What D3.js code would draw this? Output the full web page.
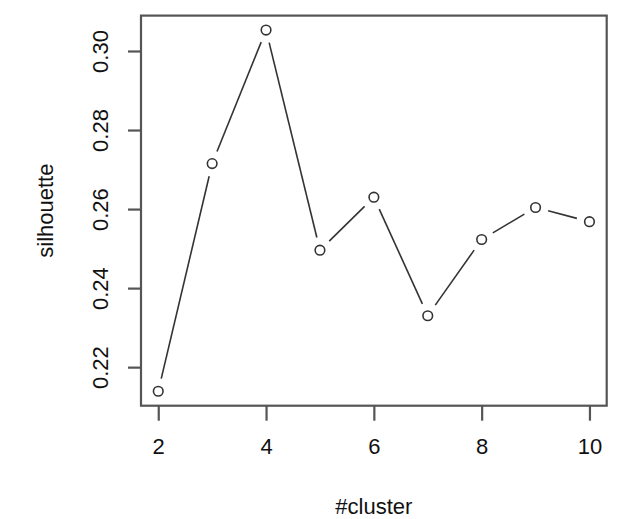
<html>
  <head>
    <script src="https://d3js.org/d3.v7.min.js"></script>
    <style>
      body { margin: 0; background: #fff; }
      text { font-family: "Liberation Sans", Arial, sans-serif; fill: #111; }
    </style>
  </head>
  <body>
    <svg width="638" height="519"></svg>
    <script>
      // data
      var clusters = [2, 3, 4, 5, 6, 7, 8, 9, 10];
      var silhouette = [0.2139, 0.2715, 0.3053, 0.2496, 0.2630, 0.2330, 0.2523, 0.2604, 0.2568];
      var xTicks = [2, 4, 6, 8, 10];
      var yTicks = [0.22, 0.24, 0.26, 0.28, 0.30];

      var svg = d3.select("svg");
      var plotLeft = 141, plotRight = 606.7, plotTop = 15.6, plotBottom = 405.7;

      // R style 4% extension of the data range
      function ext(a) {
        var e = d3.extent(a), d = (e[1] - e[0]) * 0.04;
        return [e[0] - d, e[1] + d];
      }
      var x = d3.scaleLinear().domain(ext(clusters)).range([plotLeft, plotRight]);
      var y = d3.scaleLinear().domain(ext(silhouette)).range([plotBottom, plotTop]);

      var pts = clusters.map(function(c, i) { return [x(c), y(silhouette[i])]; });

      // type = "b": segments with gaps round the points
      var gap = 13;
      var seg = svg.append("g");
      for (var i = 0; i < pts.length - 1; i++) {
        var a = pts[i], b = pts[i + 1];
        var dx = b[0] - a[0], dy = b[1] - a[1], len = Math.sqrt(dx * dx + dy * dy);
        var ux = dx / len, uy = dy / len;
        seg.append("line")
          .attr("x1", a[0] + ux * gap).attr("y1", a[1] + uy * gap)
          .attr("x2", b[0] - ux * gap).attr("y2", b[1] - uy * gap)
          .attr("stroke", "#333").attr("stroke-width", 1.6);
      }

      svg.append("g").selectAll("circle")
        .data(pts)
        .enter().append("circle")
        .attr("cx", function(d) { return d[0]; })
        .attr("cy", function(d) { return d[1]; })
        .attr("r", 4.8)
        .attr("fill", "none")
        .attr("stroke", "#333")
        .attr("stroke-width", 1.6);

      // box
      svg.append("rect")
        .attr("x", plotLeft).attr("y", plotTop)
        .attr("width", plotRight - plotLeft).attr("height", plotBottom - plotTop)
        .attr("fill", "none").attr("stroke", "#555").attr("stroke-width", 2.2);

      // x axis
      var xAxis = svg.append("g")
        .attr("transform", "translate(0," + plotBottom + ")")
        .call(d3.axisBottom(x).tickValues(xTicks).tickSize(15).tickPadding(18).tickFormat(d3.format("d")));
      xAxis.select(".domain").remove();
      xAxis.selectAll("line").attr("stroke", "#555").attr("stroke-width", 2.2);
      xAxis.selectAll("text").attr("font-size", "22px").attr("fill", "#111")
        .style("font-family", "Liberation Sans, Arial, sans-serif");

      // y axis, labels turned like R's las = 0
      var yAxis = svg.append("g")
        .attr("transform", "translate(" + plotLeft + ",0)")
        .call(d3.axisLeft(y).tickValues(yTicks).tickSize(13).tickFormat(d3.format(".2f")));
      yAxis.select(".domain").remove();
      yAxis.selectAll("line").attr("stroke", "#555").attr("stroke-width", 2.2);
      yAxis.selectAll("text")
        .attr("x", null).attr("dy", null)
        .attr("transform", "translate(-33,0) rotate(-90)")
        .attr("text-anchor", "middle")
        .attr("font-size", "22px").attr("fill", "#111")
        .style("font-family", "Liberation Sans, Arial, sans-serif");

      // axis titles
      svg.append("text")
        .attr("x", (plotLeft + plotRight) / 2)
        .attr("y", 514)
        .attr("text-anchor", "middle")
        .attr("font-size", "22px")
        .text("#cluster");

      svg.append("text")
        .attr("transform", "translate(53," + (plotTop + plotBottom) / 2 + ") rotate(-90)")
        .attr("text-anchor", "middle")
        .attr("font-size", "22px")
        .text("silhouette");
    </script>
  </body>
</html>
